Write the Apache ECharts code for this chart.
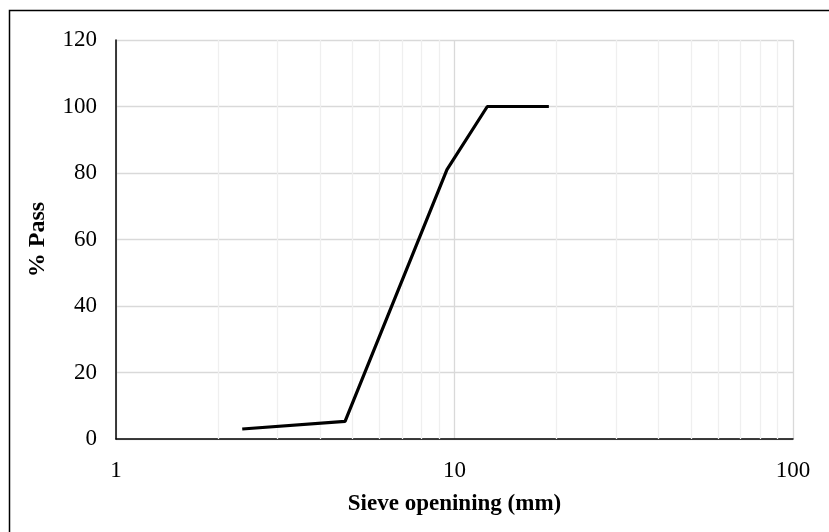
<!DOCTYPE html>
<html>
<head>
<meta charset="utf-8">
<script src="https://cdn.jsdelivr.net/npm/echarts@6/dist/echarts.min.js"></script>
<style>html,body{margin:0;padding:0;background:#fff}#c{width:829px;height:532px}</style>
</head>
<body>
<div id="c"></div>
<script>
const sieveSizes = [2.36, 4.75, 9.5, 12.5, 19];
const percentPass = [3, 5.3, 81, 100, 100];
const minorGridValues = [2, 3, 4, 5, 6, 7, 8, 9, 20, 30, 40, 50, 60, 70, 80, 90];
const xAxisTitle = 'Sieve openining (mm)';
const yAxisTitle = '% Pass';

const font = '"Liberation Serif", "Times New Roman", serif';
const chart = echarts.init(document.getElementById('c'), null, {renderer: 'canvas'});
chart.setOption({
  animation: false,
  backgroundColor: '#fff',
  graphic: [{
    type: 'rect', z: 100,
    shape: {x: 9.5, y: 10.5, width: 900, height: 600},
    style: {fill: 'none', stroke: '#000', lineWidth: 1.5}
  }],
  grid: {left: 116, right: 36, top: 40, bottom: 93},
  xAxis: {
    type: 'log', logBase: 10, min: 1, max: 100,
    name: xAxisTitle, nameLocation: 'middle', nameGap: 54,
    nameTextStyle: {fontFamily: font, fontSize: 23, fontWeight: 'bold', color: '#000'},
    axisLine: {show: true, onZero: false, lineStyle: {color: '#000', width: 1.5}},
    axisTick: {show: false},
    axisLabel: {fontFamily: font, fontSize: 23, color: '#000', margin: 20},
    splitLine: {show: true, lineStyle: {color: '#d9d9d9', width: 1.3}}
  },
  yAxis: {
    type: 'value', min: 0, max: 120, interval: 20,
    name: yAxisTitle, nameLocation: 'middle', nameGap: 66, nameRotate: 90,
    nameTextStyle: {fontFamily: font, fontSize: 24, fontWeight: 'bold', color: '#000'},
    axisLine: {show: true, lineStyle: {color: '#000', width: 1.5}},
    axisTick: {show: false},
    axisLabel: {fontFamily: font, fontSize: 23, color: '#000', margin: 19},
    splitLine: {show: true, lineStyle: {color: '#d9d9d9', width: 1.3}}
  },
  series: [{
    type: 'line',
    data: sieveSizes.map((s, i) => [s, percentPass[i]]),
    showSymbol: false, symbol: 'none',
    lineStyle: {color: '#000', width: 3.2},
    z: 10,
    markLine: {
      silent: true, symbol: 'none', label: {show: false},
      lineStyle: {color: '#efefef', width: 1.3, type: 'solid'},
      data: minorGridValues.map(v => ({xAxis: v})),
      z: 1
    }
  }]
});
</script>
</body>
</html>
